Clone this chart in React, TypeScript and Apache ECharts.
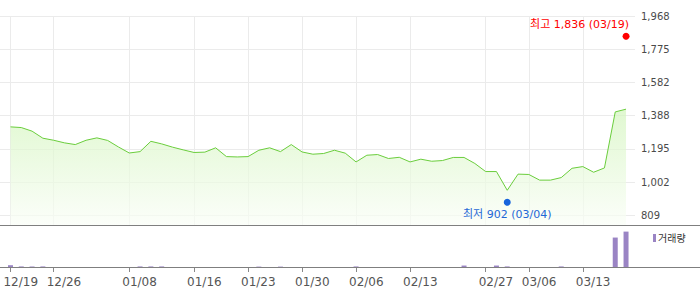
import React, { useEffect, useRef } from 'react';
import * as echarts from 'echarts';

const dates = [
  '12/19', '12/20', '12/21', '12/22', '12/26', '12/27', '12/28', '01/02', '01/03', '01/04',
  '01/05', '01/08', '01/09', '01/10', '01/11', '01/12', '01/15', '01/16', '01/17', '01/18',
  '01/19', '01/22', '01/23', '01/24', '01/25', '01/26', '01/29', '01/30', '01/31', '02/01',
  '02/02', '02/05', '02/06', '02/07', '02/08', '02/09', '02/12', '02/13', '02/15', '02/16',
  '02/19', '02/21', '02/22', '02/26', '02/27', '02/29', '03/04', '03/05', '03/06', '03/07',
  '03/08', '03/11', '03/12', '03/13', '03/14', '03/15', '03/18', '03/19',
];

const closes = [
  1323, 1319, 1298, 1257, 1245, 1230, 1220, 1245, 1259, 1244,
  1206, 1171, 1179, 1239, 1224, 1205, 1189, 1174, 1176, 1201,
  1150, 1148, 1150, 1187, 1201, 1179, 1220, 1177, 1164, 1168,
  1187, 1170, 1119, 1158, 1162, 1139, 1146, 1119, 1135, 1123,
  1127, 1145, 1145, 1110, 1063, 1063, 954, 1048, 1046, 1013,
  1013, 1028, 1082, 1092, 1059, 1084, 1410, 1426,
];

const volumes = [
  800, 450, 450, 450, 0, 0, 0, 0, 0, 0,
  0, 0, 450, 450, 450, 0, 0, 0, 0, 0,
  0, 0, 0, 400, 0, 400, 0, 0, 0, 0,
  0, 0, 450, 0, 0, 0, 0, 0, 0, 0,
  0, 0, 700, 0, 0, 700, 450, 0, 0, 0,
  0, 450, 0, 0, 0, 0, 8700, 10400,
];

const xLabelDates = ['12/19', '12/26', '01/08', '01/16', '01/23', '01/30', '02/06', '02/13', '02/27', '03/06', '03/13'];
const yTickValues = [809, 1002, 1195, 1388, 1582, 1775, 1968];

const highValue = 1836;
const highDate = '03/19';
const lowValue = 902;
const lowDate = '03/04';
const volumeName = '거래량';

export default function App() {
  const ref = useRef<HTMLDivElement>(null);

  useEffect(() => {
    if (!ref.current) return;
    const chart = echarts.init(ref.current, null, { renderer: 'svg' });
    const labelIdx = xLabelDates.map((d) => dates.indexOf(d));
    const fmtDate = (v: number) => dates[Math.round(v)] ?? '';
    const xMin = -0.97;
    const xMax = 57.83;
    const font = "'DejaVu Sans', 'Noto Sans CJK KR', sans-serif";
    const fmtNum = (v: number) => Math.round(v).toLocaleString('en-US');

    chart.setOption({
      animation: false,
      grid: [
        { left: 0, right: 65, top: 16, bottom: 64 },
        { left: 0, right: 65, top: 226, bottom: 21 },
      ],
      legend: {
        data: [volumeName],
        left: 653,
        top: 233,
        padding: 0,
        itemWidth: 3,
        itemHeight: 8,
        icon: 'rect',
        selectedMode: false,
        textStyle: { fontSize: 10, color: '#333', fontFamily: font, padding: [0, 0, 0, -3] },
      },
      xAxis: [
        {
          type: 'value',
          gridIndex: 0,
          min: xMin,
          max: xMax,
          axisLine: { show: false },
          axisTick: { show: false, customValues: labelIdx },
          axisLabel: { show: false, customValues: labelIdx },
          splitLine: { show: true, lineStyle: { color: '#ebebeb', width: 1 } },
        },
        {
          type: 'value',
          gridIndex: 1,
          min: xMin,
          max: xMax,
          axisLine: { show: false },
          axisTick: { show: true, customValues: labelIdx, length: 4, lineStyle: { color: '#888' } },
          axisLabel: {
            customValues: labelIdx,
            formatter: fmtDate,
            align: 'left',
            padding: [0, 0, 0, -7],
            margin: 8,
            color: '#555',
            fontSize: 12,
            fontFamily: font,
          },
          splitLine: { show: false },
        },
      ],
      yAxis: [
        {
          type: 'value',
          gridIndex: 0,
          position: 'right',
          min: 752,
          max: 1968,
          axisLine: { show: false },
          axisTick: { show: false, customValues: yTickValues },
          axisLabel: {
            customValues: yTickValues,
            margin: 6,
            color: '#4a4a4a',
            fontSize: 10,
            fontFamily: font,
            formatter: fmtNum,
          },
          splitLine: { show: true, lineStyle: { color: '#ebebeb', width: 1 } },
        },
        {
          type: 'value',
          gridIndex: 1,
          min: 0,
          max: 12000,
          show: false,
          splitLine: { show: false },
        },
      ],
      graphic: [
        { type: 'line', shape: { x1: 0, y1: 225.5, x2: 700, y2: 225.5 }, style: { stroke: '#7f7f7f', lineWidth: 1 }, z: 100 },
        { type: 'line', shape: { x1: 0, y1: 267.5, x2: 700, y2: 267.5 }, style: { stroke: '#7f7f7f', lineWidth: 1 }, z: 100 },
      ],
      series: [
        {
          name: 'close',
          type: 'line',
          xAxisIndex: 0,
          yAxisIndex: 0,
          data: closes.map((v, i) => [i, v]),
          symbol: 'none',
          lineStyle: { color: '#6acd3c', width: 1 },
          areaStyle: {
            color: new echarts.graphic.LinearGradient(0, 0, 0, 1, [
              { offset: 0, color: '#d3f5bd' },
              { offset: 1, color: '#fafef7' },
            ]),
          },
          z: 2,
        },
        {
          name: 'high',
          type: 'scatter',
          xAxisIndex: 0,
          yAxisIndex: 0,
          data: [[dates.indexOf(highDate), highValue]],
          symbolSize: 7,
          symbolOffset: [0, -2.5],
          itemStyle: { color: '#ff0000', opacity: 1 },
          label: {
            show: true,
            position: 'top',
            align: 'right',
            offset: [3, 2],
            formatter: `최고 ${fmtNum(highValue)} (${highDate})`,
            color: '#ff0000',
            fontSize: 11,
            fontFamily: font,
          },
          z: 5,
        },
        {
          name: 'low',
          type: 'scatter',
          xAxisIndex: 0,
          yAxisIndex: 0,
          data: [[dates.indexOf(lowDate), lowValue]],
          symbolSize: 7,
          symbolOffset: [0, 3],
          itemStyle: { color: '#1764dc', opacity: 1 },
          label: {
            show: true,
            position: 'bottom',
            offset: [0, -2],
            formatter: `최저 ${fmtNum(lowValue)} (${lowDate})`,
            color: '#1f68d6',
            fontSize: 11,
            fontFamily: font,
          },
          z: 5,
        },
        {
          name: volumeName,
          type: 'bar',
          xAxisIndex: 1,
          yAxisIndex: 1,
          data: volumes.map((v, i) => [i, v]),
          barWidth: 5,
          itemStyle: { color: '#9a84c4' },
        },
      ],
    });

    return () => chart.dispose();
  }, []);

  return (
    <div
      ref={ref}
      style={{ position: 'fixed', left: 0, top: 0, width: 700, height: 289, background: '#fff' }}
    />
  );
}
